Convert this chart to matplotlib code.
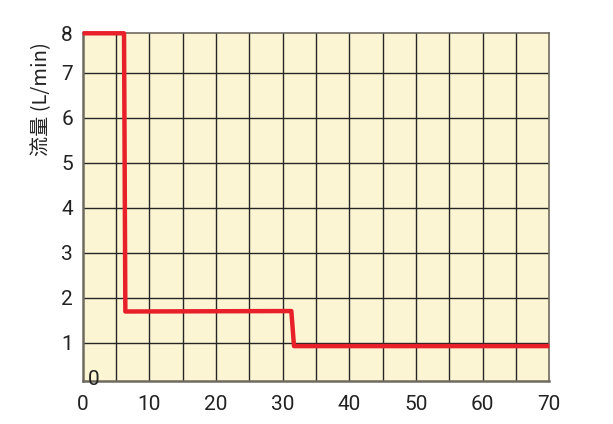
import numpy as np
import matplotlib.pyplot as plt

plt.rcParams['font.family'] = ['Roboto', 'Noto Sans CJK SC', 'DejaVu Sans']

# flow curve (time vs flow)
time_pts = [0, 6.2, 6.4, 31.3, 31.7, 70]
flow_pts = [7.88, 7.88, 1.69, 1.70, 0.92, 0.92]

x_ticks = [0, 10, 20, 30, 40, 50, 60, 70]
y_ticks = [1, 2, 3, 4, 5, 6, 7, 7.88]
y_labels = ['1', '2', '3', '4', '5', '6', '7', '8']

fig = plt.figure(figsize=(6.13, 4.24), dpi=100)
ax = fig.add_axes([0.1349, 0.1021, 0.7612, 0.8194])
ax.set_facecolor('#fcf5d3')

ax.set_xlim(0, 70)
ax.set_ylim(0.15, 7.88)

# grid every 5 along x, every 1 along y
for gx in np.arange(5, 70, 5):
    ax.axvline(gx, color='#262626', lw=1.0, zorder=1)
for gy in range(1, 8):
    ax.axhline(gy, color='#262626', lw=1.0, zorder=1)

ax.plot(time_pts, flow_pts, color='#e8202a', lw=3.2,
        solid_joinstyle='round', solid_capstyle='butt', zorder=3, clip_on=False)

ax.set_xticks(x_ticks)
ax.set_yticks(y_ticks)
ax.set_yticklabels(y_labels)
ax.tick_params(length=0, labelsize=15, colors='#222222')
ax.tick_params(axis='x', pad=10)
ax.tick_params(axis='y', pad=7)

for side in ['left', 'bottom']:
    ax.spines[side].set_color('#6f6a5f')
    ax.spines[side].set_linewidth(1.8)
for side in ['top', 'right']:
    ax.spines[side].set_color('#6f6a5f')
    ax.spines[side].set_linewidth(1.2)

ax.text(1.6, 0.17, '0', fontsize=15, color='#222222', ha='center', va='center')
fig.text(0.068, 0.766, '流量 (L/min)', rotation=90, fontsize=14.5,
         color='#222222', ha='center', va='center',
         family=['Noto Sans CJK SC', 'DejaVu Sans'])

fig.savefig('out.png', dpi=100)
